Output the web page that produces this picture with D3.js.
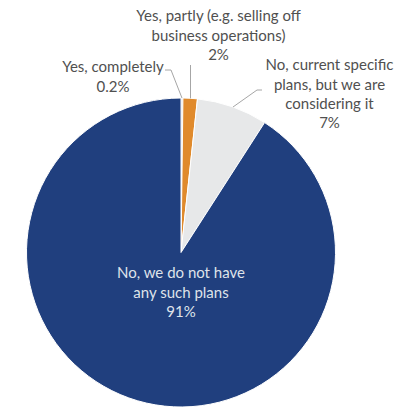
<!DOCTYPE html>
<html><head><meta charset="utf-8">
<script src="https://cdn.jsdelivr.net/npm/d3@7"></script>
<style>html,body{margin:0;padding:0;background:#fff;}svg{display:block;}</style>
</head><body>
<svg id="c" width="403" height="409"></svg>
<script>
const categories = ["Yes, completely", "Yes, partly (e.g. selling off business operations)", "No, current specific plans, but we are considering it", "No, we do not have any such plans"];
const values = [0.2, 1.5, 7.4, 90.9];
const valueLabels = ["0.2%", "2%", "7%", "91%"];
const labelLines = [["Yes, completely"], ["Yes, partly (e.g. selling off", "business operations)"], ["No, current specific", "plans, but we are", "considering it"], ["No, we do not have", "any such plans"]];
const colors = ["#c9ccd0", "#e08a2c", "#e7e8e9", "#203f7e"];

const svg = d3.select("#c");
const cx = 181, cy = 252.5, R = 154.5;
const g = svg.append("g").attr("transform", `translate(${cx},${cy})`);
const pie = d3.pie().sort(null).value(d => d)(values);
const arc = d3.arc().innerRadius(0).outerRadius(R);
g.selectAll("path").data(pie).join("path")
  .attr("d", arc).attr("fill", (d, i) => colors[i])
  .attr("stroke", "#fff").attr("stroke-width", 1);

const font = "Lato, 'Open Sans', sans-serif";
const labelPos = [[113, 67], [218.5, 16], [329.5, 65], [181, 273]];
const lineH = 19.3;
labelLines.forEach((lines, i) => {
  const t = svg.append("text").attr("text-anchor", "middle")
    .attr("font-family", font).attr("font-size", 15)
    .attr("fill", i === 3 ? "#dfe3ea" : "#505050");
  lines.concat([valueLabels[i]]).forEach((s, k) => {
    t.append("tspan").attr("x", labelPos[i][0]).attr("y", labelPos[i][1] + k * lineH)
      .attr("dy", "0.35em").text(s);
  });
});

const edge = (d, f) => { const a = d.startAngle + (d.endAngle - d.startAngle) * f; return [cx + R * Math.sin(a), cy - R * Math.cos(a)]; };
const leaders = [
  [[165, 70], [171, 70], edge(pie[0], 0.5)],
  [[190.5, 65], [190.5, edge(pie[1], 0.5)[1]]],
  [[262, 90], [257, 90], [233, 107]]
];
const line = d3.line();
svg.selectAll("path.leader").data(leaders).join("path").attr("class", "leader")
  .attr("d", line).attr("fill", "none").attr("stroke", "#a6a6a6").attr("stroke-width", 1);
</script>
</body></html>
